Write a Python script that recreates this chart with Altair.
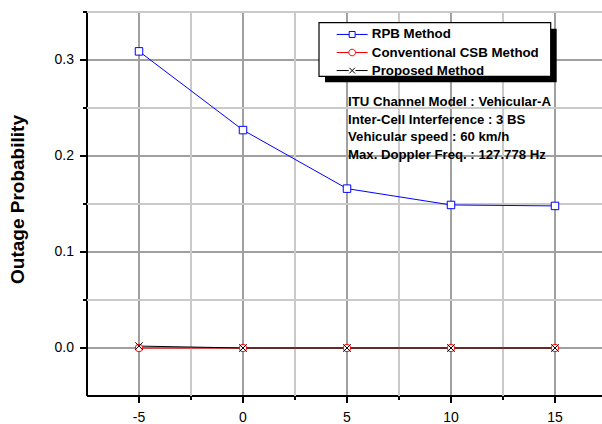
import altair as alt
import pandas as pd

# ---- data ----
snr = [-5, 0, 5, 10, 15]
rpb = [0.309, 0.227, 0.166, 0.149, 0.148]
csb = [0.0, 0.0, 0.0, 0.0, 0.0]
proposed = [0.002, 0.0, 0.0, 0.0, 0.0]
series_names = ["RPB Method", "Conventional CSB Method", "Proposed Method"]
series_colors = ["#0000ff", "#ff0000", "#000000"]
x_major_ticks = [-5, 0, 5, 10, 15]
x_minor_ticks = [-2.5, 2.5, 7.5, 12.5]
y_major_ticks = [0.0, 0.1, 0.2, 0.3]
y_minor_ticks = [0.05, 0.15, 0.25, 0.35]
info_lines = [
    "ITU Channel Model : Vehicular-A",
    "Inter-Cell Interference : 3 BS",
    "Vehicular speed : 60 km/h",
    "Max. Doppler Freq. : 127.778 Hz",
]

FONT = "Liberation Sans"
MAJOR = "#a0a0a0"
MINOR = "#cacaca"
X_PATH = "M-1,-1L1,1M-1,1L1,-1"
LEGEND_PATHS = [
    "M-4.43,0H-0.85M0.85,0H4.43M-0.85,-0.85H0.85V0.85H-0.85Z",
    "M-4.43,0H-0.95M0.95,0H4.43M0.95,0A0.95,0.95,0,1,1,-0.95,0A0.95,0.95,0,1,1,0.95,0Z",
    "M-4.43,0H-0.95M0.95,0H4.43M-0.8,-0.8L0.8,0.8M-0.8,0.8L0.8,-0.8",
]
W, H = 515, 384

rows = []
for name, vals in zip(series_names, [rpb, csb, proposed]):
    for xv, yv in zip(snr, vals):
        rows.append({"snr": xv, "p": yv, "series": name, "legend": name})
df = pd.DataFrame(rows)
one = pd.DataFrame({"k": [0]})
xminor_df = pd.DataFrame({"snr": x_minor_ticks})
yminor_df = pd.DataFrame({"p": y_minor_ticks})

x_enc = alt.X(
    "snr:Q",
    scale=alt.Scale(domain=[-7.5, -7.5 + W / 20.8], nice=False, zero=False),
    axis=alt.Axis(
        values=x_major_ticks, title=None, grid=True, gridColor=MAJOR, gridWidth=2,
        translate=0, tickSize=7, labelExpr="'' + datum.value",
        labelPadding=7.5, labelFontSize=14, labelFont=FONT, labelColor="black",
        labelFlush=False, labelOverlap=False, labelBound=False,
        domainColor="black", domainWidth=2, tickColor="black", tickWidth=2,
    ),
)
y_enc = alt.Y(
    "p:Q",
    scale=alt.Scale(domain=[-0.05, 0.35], nice=False, zero=False),
    axis=alt.Axis(
        values=y_major_ticks, title="Outage Probability", grid=True, gridColor=MAJOR, gridWidth=2,
        translate=0, tickSize=7, format=".1f",
        labelPadding=6, labelFontSize=14, labelFont=FONT, labelColor="black",
        labelFlush=False, labelOverlap=False, labelBound=False,
        domainColor="black", domainWidth=2, tickColor="black", tickWidth=2,
        titleFont=FONT, titleFontSize=19, titleFontWeight="bold", titleColor="black",
        titleX=-69, titleY=187.5, titleAngle=270, titleAlign="center", titleBaseline="middle",
    ),
)

# minor grid lines and minor ticks, placed through the shared scales
xgrid = alt.Chart(xminor_df).mark_rule(color=MINOR, strokeWidth=2).encode(
    x=x_enc, y=alt.value(0), y2=alt.value(H)
)
ygrid = alt.Chart(yminor_df).mark_rule(color=MINOR, strokeWidth=2).encode(
    y=y_enc, x=alt.value(0), x2=alt.value(W)
)
xtick = alt.Chart(xminor_df).mark_rule(color="black", strokeWidth=2).encode(
    x=x_enc, y=alt.value(H), y2=alt.value(H + 4)
)
ytick = alt.Chart(yminor_df).mark_rule(color="black", strokeWidth=2).encode(
    y=y_enc, x=alt.value(0), x2=alt.value(-4)
)

color_plain = alt.Color("series:N", scale=alt.Scale(domain=series_names, range=series_colors), legend=None)

lines = alt.Chart(df).mark_line(strokeWidth=1).encode(x=x_enc, y=y_enc, color=color_plain)

points = alt.Chart(df).mark_point(filled=False, fill="white", strokeWidth=1, size=56, opacity=1).encode(
    x=x_enc, y=y_enc, color=color_plain,
    shape=alt.Shape("series:N", scale=alt.Scale(domain=series_names, range=["square", "circle", X_PATH]), legend=None),
)

leg = alt.Legend(
    title=None, orient="none", legendX=258.5, legendY=15.8,
    labelFont=FONT, labelFontSize=13.3, labelFontWeight="bold", labelColor="black",
    labelOffset=13, rowPadding=4.05, padding=0, symbolSize=49, symbolStrokeWidth=1,
    symbolOpacity=1, labelLimit=400,
)
legend_layer = alt.Chart(df).mark_point(filled=False, opacity=0, size=49).encode(
    x=x_enc, y=y_enc,
    color=alt.Color("legend:N", scale=alt.Scale(domain=series_names, range=series_colors), legend=leg),
    shape=alt.Shape("legend:N", scale=alt.Scale(domain=series_names, range=LEGEND_PATHS), legend=leg),
)

shadow = alt.Chart(one).mark_rect(color="black").encode(
    x=alt.value(238), x2=alt.value(469.7), y=alt.value(16.7), y2=alt.value(70.3)
)
box = alt.Chart(one).mark_rect(fill="white", stroke="black", strokeWidth=1.2).encode(
    x=alt.value(232), x2=alt.value(463.7), y=alt.value(10.7), y2=alt.value(64.3)
)
info = alt.Chart(one).mark_text(
    align="left", baseline="alphabetic", font=FONT, fontSize=13.2, fontWeight="bold",
    lineHeight=17.7, color="black",
).encode(x=alt.value(261), y=alt.value(94), text=alt.value(info_lines))

chart = (
    alt.layer(xgrid, ygrid, xtick, ytick, lines, points, shadow, box, info, legend_layer)
    .resolve_scale(color="independent", shape="independent")
    .properties(
        width=W, height=H,
        autosize=alt.AutoSizeParams(type="none"),
        padding={"left": 87, "top": 12, "right": 0, "bottom": 28},
        background="white",
    )
    .configure_view(stroke=None)
)

chart.save("out.html", embed_options={"renderer": "svg", "actions": False})
